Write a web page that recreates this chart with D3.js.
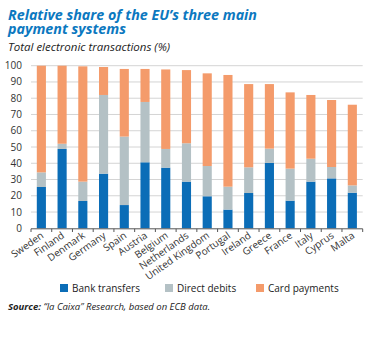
<!DOCTYPE html>
<html><head><meta charset="utf-8">
<script src="https://cdn.jsdelivr.net/npm/d3@7"></script>
<style>body{margin:0;background:#fff;}svg{display:block;font-family:"Open Sans","Noto Sans",sans-serif;}</style>
</head><body>
<script>
const categories = ["Sweden","Finland","Denmark","Germany","Spain","Austria","Belgium","Netherlands","United Kingdom","Portugal","Ireland","Greece","France","Italy","Cyprus","Malta"];
const bankTransfers = [25.4,48.8,16.8,33.6,14.3,40.6,37.3,28.7,19.7,11.5,21.7,40.2,17.0,28.7,30.7,21.9];
const directDebits = [9.0,3.2,11.9,48.4,42.1,37.1,11.5,23.6,18.6,14.1,15.8,8.8,19.7,14.1,7.0,4.5];
const cardPayments = [65.6,48.0,70.9,17.2,41.6,20.3,48.9,45.0,57.0,68.7,51.2,39.7,46.9,39.2,41.2,49.6];
const seriesNames = ["Bank transfers","Direct debits","Card payments"];
const yTicks = [0,10,20,30,40,50,60,70,80,90,100];
const colors = ["#0b6db7","#b4c1c5","#f49b6b"];

const W=372,H=338;
const svg=d3.select("body").append("svg").attr("width",W).attr("height",H);
const x=d3.scaleBand().domain(categories).range([31,362.7]).paddingInner(0.56).paddingOuter(0.28);
const y=d3.scaleLinear().domain([0,100]).range([228.3,65.7]);

// title
const title=svg.append("g").attr("fill","#0b78c0").attr("font-weight","bold").attr("font-style","italic").attr("font-size","14px");
title.append("text").attr("x",8).attr("y",20).attr("textLength",249).attr("lengthAdjust","spacingAndGlyphs").text("Relative share of the EU\u2019s three main");
title.append("text").attr("x",8).attr("y",33.5).attr("textLength",118).attr("lengthAdjust","spacingAndGlyphs").text("payment systems");
svg.append("text").attr("x",8).attr("y",51).attr("font-style","italic").attr("font-size","11.5px").attr("fill","#222").text("Total electronic transactions (%)");

// grid
svg.append("g").selectAll("line").data(yTicks.filter(d=>d>0)).join("line")
 .attr("x1",31).attr("x2",362.7).attr("y1",d=>y(d)).attr("y2",d=>y(d))
 .attr("stroke","#d4d4d4").attr("stroke-width",1);
svg.append("g").selectAll("text").data(yTicks).join("text")
 .attr("x",22).attr("y",d=>y(d)+3.5).attr("text-anchor","end").attr("font-size","10px").attr("fill","#333").text(d=>d);

// stacks
const data=categories.map((c,i)=>({cat:c,b:bankTransfers[i],d:directDebits[i],c2:cardPayments[i]}));
const stack=d3.stack().keys(["b","d","c2"])(data);
svg.append("g").selectAll("g").data(stack).join("g").attr("fill",(d,i)=>colors[i])
 .selectAll("rect").data(d=>d).join("rect")
 .attr("x",d=>x(d.data.cat)).attr("width",x.bandwidth())
 .attr("y",d=>y(d[1])).attr("height",d=>y(d[0])-y(d[1]));

// axis
const ax=svg.append("g");
ax.append("line").attr("x1",31).attr("x2",362.7).attr("y1",228.8).attr("y2",228.8).attr("stroke","#555").attr("stroke-width",1);
const tickPos=d3.range(17).map(i=>31+i*(331.7/16));
ax.selectAll(".t").data(tickPos).join("line").attr("x1",d=>d).attr("x2",d=>d).attr("y1",228.8).attr("y2",232).attr("stroke","#555");

// x labels
svg.append("g").selectAll("text").data(categories).join("text")
 .attr("transform",d=>`translate(${x(d)+x.bandwidth()/2+3},237) rotate(-35)`)
 .attr("text-anchor","end").attr("font-size","10px").attr("fill","#333").text(d=>d);

// legend
const lx=[60,165,256];
const lg=svg.append("g");
seriesNames.forEach((n,i)=>{
 lg.append("rect").attr("x",lx[i]).attr("y",284).attr("width",8).attr("height",8).attr("fill",colors[i]);
 lg.append("text").attr("x",lx[i]+12).attr("y",291.5).attr("font-size","10px").attr("fill","#222").text(n);
});

// source
const s=svg.append("text").attr("x",8).attr("y",310).attr("font-size","9.5px").attr("font-style","italic").attr("fill","#222");
s.append("tspan").attr("font-weight","bold").text("Source:");
s.append("tspan").text(" \u201Cla Caixa\u201D Research, based on ECB data.");
</script>
</body></html>
